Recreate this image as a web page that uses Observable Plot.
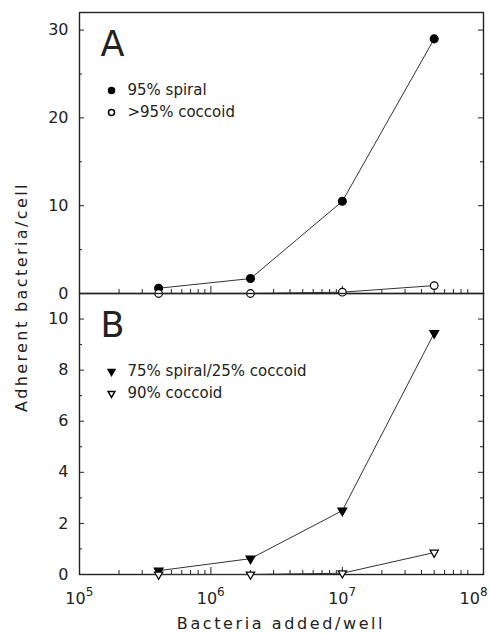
<!DOCTYPE html>
<html><head><meta charset="utf-8">
<script src="https://cdn.jsdelivr.net/npm/d3@7"></script>
<script src="https://cdn.jsdelivr.net/npm/@observablehq/plot@0.6"></script>
<style>
body{margin:0;background:#fff;font-family:"DejaVu Sans",sans-serif;}
#wrap{position:relative;width:490px;height:634px;}
#wrap svg{display:block;}
#ylab{position:absolute;left:21px;top:297px;transform:translate(-50%,-50%) rotate(-90deg);white-space:nowrap;font-size:16px;letter-spacing:2.4px;color:#222;}
#xlab{position:absolute;left:281px;top:623px;transform:translate(-50%,-50%);white-space:nowrap;font-size:16px;letter-spacing:2.6px;color:#222;}
</style></head><body><div id="wrap"></div>
<script>
// data
const doses = [4e5, 2e6, 1e7, 5e7];
const spiral95 = [0.6, 1.7, 10.5, 29.0];
const coccoid95 = [0, 0, 0.15, 0.9];
const mixed7525 = [0.15, 0.62, 2.5, 9.45];
const coccoid90 = [0, 0, 0.05, 0.86];
const legendA = ["95% spiral", ">95% coccoid"];
const legendB = ["75% spiral/25% coccoid", "90% coccoid"];
const xTickLabels = [1e5, 1e6, 1e7, 1e8];
const yTicksA = [0, 10, 20, 30];
const yMinorA = [5, 15, 25];
const yTicksB = [0, 2, 4, 6, 8, 10];
const yMinorB = [1, 3, 5, 7, 9];
const xMinor = [];
for (const p of [1e5, 1e6, 1e7]) for (let m = 2; m <= 9; m++) xMinor.push(m * p);
const xMajor = [1e6, 1e7];

const W = 490, ML = 79, MR = 7;
const innerW = W - ML - MR;
const xDomain = [1e5, 1.186e8];
const ink = "#222";

function rows(vals) { return doses.map((x, i) => ({x, y: vals[i]})); }

function panel({height, marginTop, marginBottom, yDomain, yTicks, yMinor, s1, s2, sym, letter, legend, bottom}) {
  const innerH = height - marginTop - marginBottom;
  const tri = sym === "triangle";
  const rot = tri ? 180 : 0;
  const rData = tri ? 3.1 : 3.8;
  const rLeg = tri ? 2.5 : 3;
  const marks = [
    Plot.frame({stroke: ink, strokeWidth: 1.4}),
    Plot.tickY(yTicks, {y: d => d, insetRight: innerW - 5, stroke: ink}),
    Plot.tickY(yMinor, {y: d => d, insetRight: innerW - 3, stroke: ink}),
    Plot.tickY(yTicks, {y: d => d, insetLeft: innerW - 5, stroke: ink}),
    Plot.tickY(yMinor, {y: d => d, insetLeft: innerW - 3, stroke: ink}),
    Plot.tickX(xMinor, {x: d => d, insetTop: innerH - 4, stroke: ink}),
    Plot.tickX(xMajor, {x: d => d, insetTop: innerH - 7, stroke: ink}),
    Plot.axisY(yTicks, {tickSize: 0, tickPadding: 11, fontSize: 16, fill: ink, label: null}),
    Plot.line(rows(s1), {x: "x", y: "y", stroke: "#333", strokeWidth: 1}),
    Plot.line(rows(s2), {x: "x", y: "y", stroke: "#333", strokeWidth: 1}),
    Plot.dot(rows(s1), {x: "x", y: "y", symbol: sym, rotate: rot, r: rData, fill: "black", stroke: "black"}),
    Plot.dot(rows(s2), {x: "x", y: "y", symbol: sym, rotate: rot, r: rData, fill: "white", stroke: "black", strokeWidth: 1.2}),
    Plot.text([letter], {frameAnchor: "top-left", dx: 21, dy: 32, fontSize: 35, textAnchor: "start", lineAnchor: "middle", fill: ink}),
    Plot.dot([legend[0]], {frameAnchor: "top-left", dx: 32, dy: 78, symbol: sym, rotate: rot, r: rLeg, fill: "black", stroke: "black"}),
    Plot.dot([legend[1]], {frameAnchor: "top-left", dx: 32, dy: 100, symbol: sym, rotate: rot, r: rLeg, fill: "white", stroke: "black"}),
    Plot.text([legend[0]], {frameAnchor: "top-left", dx: 48, dy: 78, text: d => d, fontSize: 15, textAnchor: "start", lineAnchor: "middle", fill: ink}),
    Plot.text([legend[1]], {frameAnchor: "top-left", dx: 48, dy: 100, text: d => d, fontSize: 15, textAnchor: "start", lineAnchor: "middle", fill: ink})
  ];
  if (bottom) {
    marks.push(Plot.text(xTickLabels, {x: d => d, frameAnchor: "bottom", dx: -4, dy: 24, text: () => "10", fontSize: 16, lineAnchor: "middle", fill: ink}));
    marks.push(Plot.text(xTickLabels, {x: d => d, frameAnchor: "bottom", dx: 10, dy: 18, text: d => String(Math.round(Math.log10(d))), fontSize: 12, lineAnchor: "middle", fill: ink}));
  }
  return Plot.plot({
    width: W, height, marginLeft: ML, marginRight: MR, marginTop, marginBottom,
    style: {fontFamily: "DejaVu Sans, sans-serif", background: "white", overflow: "visible"},
    x: {type: "log", domain: xDomain, axis: null},
    y: {domain: yDomain, axis: null},
    marks
  });
}

const wrap = document.getElementById("wrap");
wrap.append(panel({height: 293, marginTop: 12, marginBottom: 0, yDomain: [0, 32], yTicks: yTicksA, yMinor: yMinorA,
  s1: spiral95, s2: coccoid95, sym: "circle", letter: "A", legend: legendA, bottom: false}));
wrap.append(panel({height: 341, marginTop: 0, marginBottom: 60, yDomain: [0, 11], yTicks: yTicksB, yMinor: yMinorB,
  s1: mixed7525, s2: coccoid90, sym: "triangle", letter: "B", legend: legendB, bottom: true}));
const yl = document.createElement("div");
yl.id = "ylab";
yl.textContent = "Adherent bacteria/cell";
wrap.append(yl);
const xl = document.createElement("div");
xl.id = "xlab";
xl.textContent = "Bacteria added/well";
wrap.append(xl);
</script></body></html>
